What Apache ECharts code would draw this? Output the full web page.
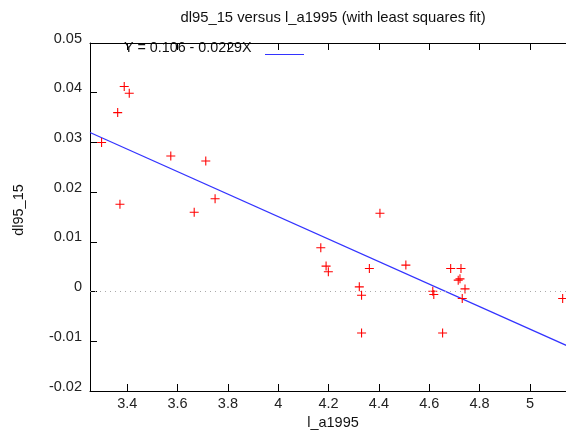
<!DOCTYPE html>
<html>
<head>
<meta charset="utf-8">
<script src="https://cdn.jsdelivr.net/npm/echarts@6/dist/echarts.min.js"></script>
<style>
  html, body { margin: 0; padding: 0; background: #fff; }
  #myChart { width: 566px; height: 430px; }
</style>
</head>
<body>
<div id="myChart"></div>
<script>
  // values
  let xVals = [3.298, 3.362, 3.388, 3.408, 3.371, 3.573, 3.712, 3.666, 3.749,
    4.169, 4.190, 4.199, 4.362, 4.404, 4.322, 4.331, 4.331, 4.507,
    4.614, 4.618, 4.653, 4.685, 4.726, 4.715, 4.722, 4.742, 4.731, 5.130];
  let yVals = [0.0300, 0.0360, 0.04125, 0.0399, 0.01755, 0.02728, 0.02627, 0.01594, 0.01868,
    0.0088, 0.00512, 0.00397, 0.00465, 0.01574, 0.00095, -0.00073, -0.00832, 0.00532,
    0.00008, -0.00058, -0.00832, 0.00465, 0.00465, 0.0023, 0.00256, 0.00054, -0.00139, -0.00139];
  // fitted line ends
  let fitX = [3.252, 5.183];
  let fitY = [0.0320, -0.0117];
  let xTicks = [3.4, 3.6, 3.8, 4.0, 4.2, 4.4, 4.6, 4.8, 5.0];
  let fitLabel = 'Y = 0.106 - 0.0229X';

  let font = "'Liberation Sans', Arial, sans-serif";
  let plus = 'path://M-0.12,-1H0.12V-0.12H1V0.12H0.12V1H-0.12V0.12H-1V-0.12H-0.12Z';

  let myChart = echarts.init(document.getElementById('myChart'));
  myChart.setOption({
    animation: false,
    grid: { left: 90, top: 43, width: 486, height: 348, outerBoundsMode: 'none' },
    xAxis: [{
      type: 'value',
      min: 3.252,
      max: 5.183,
      name: 'l_a1995',
      nameLocation: 'middle',
      nameGap: 23,
      nameTextStyle: { fontFamily: font, fontSize: 14.5, color: '#111' },
      axisLine: { onZero: false, lineStyle: { color: '#000', width: 1 } },
      axisTick: { inside: true, length: 7, customValues: xTicks, lineStyle: { color: '#000' } },
      axisLabel: {
        customValues: xTicks,
        margin: 5,
        fontFamily: font, fontSize: 14.5, color: '#222',
        formatter: v => String(parseFloat(v.toFixed(1)))
      },
      splitLine: { show: false }
    }, {
      type: 'value',
      position: 'top',
      min: 3.252,
      max: 5.183,
      axisLine: { onZero: false, lineStyle: { color: '#000', width: 1 } },
      axisTick: { inside: true, length: 7, customValues: xTicks, lineStyle: { color: '#000' } },
      axisLabel: { show: false },
      splitLine: { show: false }
    }],
    yAxis: {
      type: 'value',
      min: -0.02,
      max: 0.05,
      interval: 0.01,
      name: 'dl95_15',
      nameLocation: 'middle',
      nameGap: 64,
      nameTextStyle: { fontFamily: font, fontSize: 14.5, color: '#111', padding: [0, 0, 0, 14] },
      axisLine: { show: true, onZero: false, lineStyle: { color: '#000', width: 1 } },
      axisTick: { show: true, inside: true, length: 7, lineStyle: { color: '#000' } },
      axisLabel: {
        margin: 8,
        verticalAlign: 'bottom',
        lineHeight: 9,
        fontFamily: font, fontSize: 14.5, color: '#222',
        formatter: v => String(parseFloat(v.toFixed(2)))
      },
      splitLine: { show: false }
    },
    graphic: [
      {
        type: 'text', x: 333, y: 18,
        style: {
          text: 'dl95_15 versus l_a1995 (with least squares fit)',
          fontFamily: font, fontSize: 14.8, fill: '#111',
          textAlign: 'center', textVerticalAlign: 'middle'
        }
      },
      {
        type: 'text', x: 124, y: 48,
        style: {
          text: fitLabel, fontFamily: font, fontSize: 14.3, fill: '#111',
          textVerticalAlign: 'middle'
        }
      },
      {
        type: 'line', shape: { x1: 265, y1: 54.5, x2: 304, y2: 54.5 },
        style: { stroke: '#3333ff', lineWidth: 1.2 }
      }
    ],
    series: [
      {
        type: 'scatter',
        data: xVals.map((x, i) => [x, yVals[i]]),
        symbol: plus,
        symbolSize: 9,
        itemStyle: { color: '#ff0000', opacity: 1 },
        markLine: {
          silent: true,
          symbol: 'none',
          label: { show: false },
          lineStyle: { color: '#aaaaaa', type: [1, 4], width: 1 },
          data: [{ yAxis: 0 }]
        }
      },
      {
        type: 'line',
        data: fitX.map((x, i) => [x, fitY[i]]),
        showSymbol: false,
        lineStyle: { color: '#3333ff', width: 1.2 },
        z: 1
      }
    ]
  });
</script>
</body>
</html>
